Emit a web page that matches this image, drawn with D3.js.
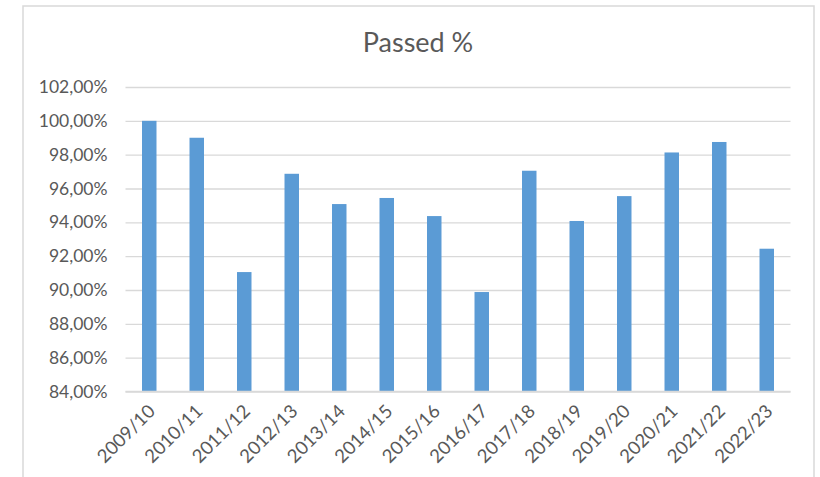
<!DOCTYPE html>
<html>
<head>
<meta charset="utf-8">
<script src="https://cdn.jsdelivr.net/npm/d3@7"></script>
<style>
  body { margin: 0; background: #fff; }
  svg text { font-family: Lato, "Open Sans", sans-serif; fill: #595959; }
</style>
</head>
<body>
<svg id="chart" width="820" height="477"></svg>
<script>
const seasons = ['2009/10', '2010/11', '2011/12', '2012/13', '2013/14', '2014/15', '2015/16',
  '2016/17', '2017/18', '2018/19', '2019/20', '2020/21', '2021/22', '2022/23'];
const passed = [100.0, 99.0, 91.06, 96.87, 95.08, 95.44, 94.37,
  89.88, 97.05, 94.08, 95.55, 98.13, 98.75, 92.44];
const yTicks = [84, 86, 88, 90, 92, 94, 96, 98, 100, 102];

const svg = d3.select('#chart');

// chart area frame
svg.append('rect')
  .attr('x', 23).attr('y', 6)
  .attr('width', 791).attr('height', 490)
  .attr('fill', 'none')
  .attr('stroke', '#d9d9d9')
  .attr('stroke-width', 1.5);

const plot = {left: 125.5, right: 790.5, top: 87, bottom: 391.5};

const x = d3.scaleBand()
  .domain(seasons)
  .range([plot.left, plot.right])
  .paddingInner(0.695)
  .paddingOuter(0.3475);

const y = d3.scaleLinear()
  .domain([84, 102])
  .range([plot.bottom, plot.top]);

const fmt = v => d3.format('.2f')(v).replace('.', ',') + '%';

// gridlines + y labels
const yAxis = d3.axisLeft(y)
  .tickValues(yTicks)
  .tickFormat(fmt)
  .tickSize(-(plot.right - plot.left))
  .tickPadding(18);

const gy = svg.append('g')
  .attr('transform', `translate(${plot.left},0)`)
  .call(yAxis);
gy.select('.domain').remove();
gy.selectAll('line').attr('stroke', '#d9d9d9').attr('stroke-width', 1.3);
gy.selectAll('text').attr('font-size', 17.5).attr('fill', '#595959');

// bars
svg.append('g')
  .selectAll('rect')
  .data(passed)
  .join('rect')
  .attr('x', (d, i) => x(seasons[i]))
  .attr('width', x.bandwidth())
  .attr('y', d => y(d))
  .attr('height', d => y(84) - y(d))
  .attr('fill', '#5b9bd5');

// baseline
svg.append('line')
  .attr('x1', plot.left).attr('x2', plot.right)
  .attr('y1', y(84)).attr('y2', y(84))
  .attr('stroke', '#d9d9d9')
  .attr('stroke-width', 1.5);

// x labels
const xAxis = d3.axisBottom(x).tickSize(0).tickPadding(0);
const gx = svg.append('g')
  .attr('transform', `translate(0,${plot.bottom})`)
  .call(xAxis);
gx.select('.domain').remove();
gx.selectAll('text')
  .attr('font-size', 18.5)
  .attr('fill', '#595959')
  .attr('text-anchor', 'end')
  .attr('dy', null)
  .attr('transform', 'translate(7,21) rotate(-45)');

// title
svg.append('text')
  .attr('x', 418)
  .attr('y', 52)
  .attr('text-anchor', 'middle')
  .attr('font-size', 27)
  .text('Passed %');
</script>
</body>
</html>
